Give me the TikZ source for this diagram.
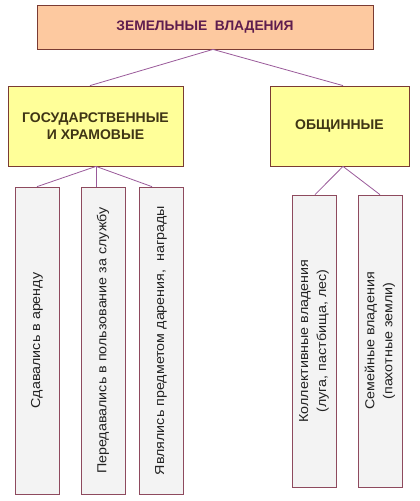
\documentclass[tikz,border=0pt]{standalone}
\usepackage{fontspec}
\setmainfont{Liberation Sans}
\definecolor{peach}{HTML}{FDC9A0}
\definecolor{yel}{HTML}{FFFF99}
\definecolor{lgray}{HTML}{F3F3F3}
\definecolor{bord}{HTML}{7A3B33}
\definecolor{cbord}{HTML}{8E4A5E}
\definecolor{lnk}{HTML}{9A5A9A}
\definecolor{ttl}{HTML}{5E1D4E}
\definecolor{sub}{HTML}{3F3515}
\definecolor{ctext}{HTML}{222222}
\newcommand{\wide}[1]{\scalebox{1.1}[1]{#1}}
\begin{document}
\begin{tikzpicture}[x=1pt,y=-1pt,
  topbox/.style={draw=bord,line width=0.8pt,fill=peach,minimum width=336pt,minimum height=44pt,inner sep=0pt,
    font=\fontsize{13.8}{16}\selectfont\bfseries,text=ttl},
  midbox/.style={draw=bord,line width=0.8pt,fill=yel,minimum height=80pt,inner sep=0pt,align=center,
    font=\fontsize{14}{17}\selectfont\bfseries,text=sub},
  leaf/.style={draw=cbord,line width=0.7pt,fill=lgray,minimum width=44pt,inner sep=0pt},
  leaftext/.style={rotate=90,align=center,inner sep=0pt,font=\fontsize{13}{18}\selectfont,text=ctext},
  link/.style={draw=lnk,line width=0.8pt}]
\useasboundingbox (0,0) rectangle (420,501);
\fill[white] (0,0) rectangle (420,501);
\node[topbox] (top) at (205,27) {ЗЕМЕЛЬНЫЕ\ \ ВЛАДЕНИЯ};
\node[midbox,minimum width=175pt] (gos) at (95.5,126) {ГОСУДАРСТВЕННЫЕ\\И ХРАМОВЫЕ};
\node[midbox,minimum width=139pt] (obs) at (339.5,126) {ОБЩИННЫЕ};
\node[leaf,minimum height=307pt] (l1) at (37,340.5) {};
\node[leaf,minimum height=307pt] (l2) at (103,340.5) {};
\node[leaf,minimum height=307pt] (l3) at (161,340.5) {};
\node[leaf,minimum height=292pt] (r1) at (314,341) {};
\node[leaf,minimum height=292pt] (r2) at (380,341) {};
\node[leaftext] (t1) at (l1.center) {\wide{Сдавались в аренду}};
\node[leaftext] (t2) at (l2.center) {\wide{Передавались в пользование за службу}};
\node[leaftext] (t3) at (l3.center) {\wide{Являлись предметом дарения,\ \ награды}};
\node[leaftext] (t4) at (r1.center) {\wide{Коллективные владения}\\\wide{(луга, пастбища, лес)}};
\node[leaftext] (t5) at (r2.center) {\wide{Семейные владения}\\\wide{(пахотные земли)}};
\coordinate (ts) at ([xshift=8pt]top.south);
\coordinate (gs) at ([xshift=0.5pt]gos.south);
\coordinate (os) at ([xshift=3.5pt]obs.south);
\draw[link] (ts) -- ([xshift=-5.5pt]gos.north);
\draw[link] (ts) -- ([xshift=3.5pt]obs.north);
\draw[link] (gs) -- (l1.north);
\draw[link] (gs) -- (gs |- l2.north);
\draw[link] (gs) -- ([xshift=-9pt]l3.north);
\draw[link] (os) -- ([xshift=1pt]r1.north);
\draw[link] (os) -- (r2.north);
\end{tikzpicture}
\end{document}
